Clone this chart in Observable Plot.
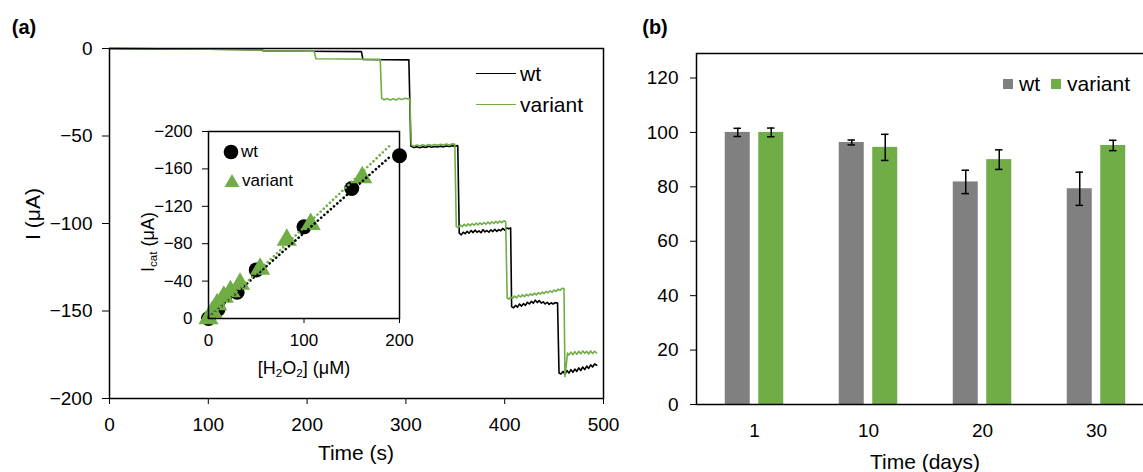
<!DOCTYPE html>
<html><head><meta charset="utf-8">
<script src="https://cdn.jsdelivr.net/npm/d3@7"></script>
<script src="https://cdn.jsdelivr.net/npm/@observablehq/plot@0.6"></script>
<style>
html,body{margin:0;padding:0;background:#fff;overflow:hidden;}
#root{position:relative;width:1143px;height:472px;overflow:hidden;font-family:"Liberation Sans",Arial,sans-serif;color:#000;}
#root > svg{position:absolute;overflow:visible;}
.t{position:absolute;white-space:nowrap;line-height:1;transform:translate(-50%,-50%);}
.rot{transform:translate(-50%,-50%) rotate(-90deg);}
.leg{position:absolute;white-space:nowrap;line-height:1;display:flex;align-items:center;}
sub{font-size:65%;vertical-align:-0.25em;line-height:0;}
</style></head><body><div id="root"></div>
<script>
// ---------- Panel (a): amperometric traces ----------
const timeTicks = [0, 100, 200, 300, 400, 500];
const currentTicks = [-200, -150, -100, -50, 0];

const wtTime = [0,50,100,154,156,200,255,256.5,280,303,305,308,311,314,317,320,323,326,329,332,335,338,341,344,347,350,352.5,
  354,356,358,360,362,364,366,368,370,372,374,376,378,380,382,384,386,388,390,392,394,396,398,400,402,404,406,
  407,409,411,413,415,417,419,421,423,425,427,429,431,433,435,437,439,441,443,445,447,449,451,453.5,
  455,457,459,461,463,465,467,469,471,473,475,477,479,481,483,485,487,489,491,493];
const wtCurrent = [0,-0.2,-0.4,-0.7,-1.4,-1.6,-1.8,-6.3,-6.4,-6.5,-55.8,-56.6,-56.2,-56.7,-56.1,-56.5,-55.9,-56.4,-56.0,-56.3,-55.8,-56.2,-55.7,-56.0,-55.6,-55.8,-55.5,
  -105.5,-106.5,-105,-105.8,-104.5,-105.5,-104,-105.2,-103.8,-105,-104.2,-105.3,-103.5,-104.8,-104,-105,-103.6,-104.6,-103.3,-104.5,-103.5,-104.2,-102.8,-103.8,-102.5,-103,-102.5,
  -147.5,-148.2,-146.8,-147.8,-146,-147.2,-145.8,-146.8,-145,-146,-144.5,-145.5,-143.8,-145.2,-144,-145.5,-144.8,-146,-145,-146.2,-145.3,-146,-145.2,-145.5,
  -185.5,-186,-184.5,-186.2,-184,-185.5,-183.5,-185,-183.2,-184.5,-182.5,-184,-182,-183.5,-181.5,-182.8,-180.8,-182,-180.2,-181];

const variantTime = [0,50,100,154,156,207,209,240,274,275.5,278,281,284,287,290,293,296,299,302,304,305.5,308,311,314,317,320,323,326,329,332,335,338,341,344,347,349.5,
  351,353,355,357,359,361,363,365,367,369,371,373,375,377,379,381,383,385,387,389,391,393,395,397,399,401,
  402.5,404,406,408,410,412,414,416,418,420,422,424,426,428,430,432,434,436,438,440,442,444,446,448,450,452,454,456,458,460,
  461,462.5,463.5,465,467,469,471,473,475,477,479,481,483,485,487,489,491,493];
const variantCurrent = [0,-0.2,-0.4,-0.7,-1.4,-1.6,-5.9,-6.0,-6.2,-28.5,-29.3,-28.6,-29.5,-28.7,-29.4,-28.5,-29.2,-28.4,-28.8,-28.6,-55.2,-55.8,-55.2,-55.7,-55.0,-55.6,-54.9,-55.5,-54.8,-55.3,-54.7,-55.2,-54.6,-55.1,-54.5,-54.8,
  -101.8,-102.4,-101,-101.8,-100.5,-101.5,-100.2,-101.2,-100,-101,-99.8,-100.8,-99.6,-100.6,-99.5,-100.4,-99.2,-100.2,-99,-100,-98.8,-99.8,-98.6,-99.5,-98.4,-99,
  -142.5,-143.2,-142,-142.8,-141.5,-142.5,-141,-142,-140.8,-141.8,-140.5,-141.4,-140.2,-141,-139.8,-140.8,-139.5,-140.4,-139.2,-140,-138.8,-139.6,-138.5,-139.2,-138,-138.8,-137.5,-138.2,-137,-137.2,
  -187.5,-180,-174,-175.2,-173.5,-175,-173.2,-174.8,-173,-174.5,-172.8,-174.2,-173,-174.6,-172.8,-174.3,-173,-174];

// ---------- Inset: calibration ----------
const insetXTicks = [0, 100, 200];
const insetYTicks = [-200, -160, -120, -80, -40, 0];
const wtConc = [0, 10, 30, 50, 100, 150, 200];
const wtIcat = [0, -10, -28, -52, -98, -139, -174];
const variantConc = [0, 4, 9, 16, 23, 33, 54, 82, 107, 161];
const variantIcat = [0, -7, -15, -23, -29, -37, -53, -84, -101, -151];
const wtFitConc = [0, 190];
const wtFitIcat = [-1, -173];
const variantFitConc = [0, 190];
const variantFitIcat = [0, -185];

// ---------- Panel (b): stability ----------
const days = ["1", "10", "20", "30"];
const wtActivity = [100.0, 96.3, 81.8, 79.3];
const wtError = [1.5, 0.9, 4.3, 6.1];
const variantActivity = [100.0, 94.5, 90.0, 95.2];
const variantError = [1.6, 4.8, 3.6, 1.9];
const activityTicks = [0, 20, 40, 60, 80, 100, 120];

const GREEN = "#70ad47", GREY = "#808080";
const FONT = "'Liberation Sans', Arial, sans-serif";
const root = document.getElementById("root");

function place(el, left, top) { el.style.left = left + "px"; el.style.top = top + "px"; root.appendChild(el); }
function text(html, x, y, size, extra = "") {
  const d = document.createElement("div");
  d.className = "t " + extra; d.innerHTML = html; d.style.fontSize = size + "px";
  place(d, x, y); return d;
}

// Panel (a) main plot
const wtRows = wtTime.map((t, i) => ({t, I: wtCurrent[i]}));
const varRows = variantTime.map((t, i) => ({t, I: variantCurrent[i]}));
const mainPlot = Plot.plot({
  width: 620, height: 472,
  marginLeft: 109, marginRight: 17, marginTop: 48, marginBottom: 74,
  style: {fontFamily: FONT, fontSize: "19px", background: "transparent", color: "#000"},
  x: {domain: [0, 500], ticks: timeTicks, tickSize: 6, tickPadding: 13, label: null},
  y: {domain: [-200, 0], ticks: currentTicks, tickSize: 7, tickPadding: 10, label: null},
  marks: [
    Plot.line(wtRows, {x: "t", y: "I", stroke: "#000", strokeWidth: 1.6}),
    Plot.line(varRows, {x: "t", y: "I", stroke: GREEN, strokeWidth: 1.6}),
    Plot.frame({stroke: "#000", strokeWidth: 1.5})
  ]
});
place(mainPlot, 0, 0);

// Inset (reversed current axis: 0 at bottom, -200 at top)
const wtPts = wtConc.map((c, i) => ({c, I: wtIcat[i]}));
const varPts = variantConc.map((c, i) => ({c, I: variantIcat[i]}));
const wtFit = wtFitConc.map((c, i) => ({c, I: wtFitIcat[i]}));
const varFit = variantFitConc.map((c, i) => ({c, I: variantFitIcat[i]}));
const inset = Plot.plot({
  width: 270, height: 280,
  marginLeft: 68, marginRight: 11, marginTop: 21, marginBottom: 72,
  style: {fontFamily: FONT, fontSize: "17px", background: "transparent", color: "#000"},
  x: {domain: [0, 200], ticks: insetXTicks, tickSize: 5, tickPadding: 10, label: null},
  y: {domain: [-200, 0], reverse: true, ticks: insetYTicks, tickSize: 6, tickPadding: 10, label: null},
  marks: [
    Plot.frame({fill: "#fff", stroke: "none"}),
    Plot.dot(wtPts, {x: "c", y: "I", r: 7.5, fill: "#000", stroke: "none"}),
    Plot.dot(varPts, {x: "c", y: "I", r: 7.5, symbol: "triangle", fill: GREEN, stroke: "none"}),
    Plot.line(wtFit, {x: "c", y: "I", stroke: "#000", strokeWidth: 2.6, strokeDasharray: "0.1 4.2", strokeLinecap: "round"}),
    Plot.line(varFit, {x: "c", y: "I", stroke: GREEN, strokeWidth: 2.6, strokeDasharray: "0.1 4.2", strokeLinecap: "round"}),
    Plot.frame({stroke: "#000", strokeWidth: 1.5})
  ]
});
place(inset, 140, 110);

// Panel (b)
const barRows = [];
days.forEach((d, i) => {
  barRows.push({day: d, s: "wt", v: wtActivity[i], lo: wtActivity[i] - wtError[i], hi: wtActivity[i] + wtError[i]});
  barRows.push({day: d, s: "variant", v: variantActivity[i], lo: variantActivity[i] - variantError[i], hi: variantActivity[i] + variantError[i]});
});
const wtBars = barRows.filter(r => r.s === "wt");
const varBars = barRows.filter(r => r.s === "variant");
const IN_NEAR = 27.75, IN_FAR = 61.25, CAP_NEAR = 36.5, CAP_FAR = 70, OFF = 16.75;
const barPlot = Plot.plot({
  width: 600, height: 472,
  marginLeft: 96, marginRight: 46, marginTop: 53, marginBottom: 68,
  style: {fontFamily: FONT, fontSize: "19px", background: "transparent", color: "#000"},
  x: {type: "band", domain: days, padding: 0, tickSize: 0, tickPadding: 19, label: null},
  y: {domain: [0, 129], ticks: activityTicks, tickSize: 6, tickPadding: 12, label: null},
  marks: [
    Plot.barY(wtBars, {x: "day", y: "v", fill: GREY, insetLeft: IN_NEAR, insetRight: IN_FAR}),
    Plot.barY(varBars, {x: "day", y: "v", fill: GREEN, insetLeft: IN_FAR, insetRight: IN_NEAR}),
    Plot.ruleX(wtBars, {x: "day", y1: "lo", y2: "hi", dx: -OFF, stroke: "#000", strokeWidth: 1.5}),
    Plot.ruleX(varBars, {x: "day", y1: "lo", y2: "hi", dx: OFF, stroke: "#000", strokeWidth: 1.5}),
    Plot.tickY(wtBars, {x: "day", y: "lo", insetLeft: CAP_NEAR, insetRight: CAP_FAR, stroke: "#000", strokeWidth: 1.5}),
    Plot.tickY(wtBars, {x: "day", y: "hi", insetLeft: CAP_NEAR, insetRight: CAP_FAR, stroke: "#000", strokeWidth: 1.5}),
    Plot.tickY(varBars, {x: "day", y: "lo", insetLeft: CAP_FAR, insetRight: CAP_NEAR, stroke: "#000", strokeWidth: 1.5}),
    Plot.tickY(varBars, {x: "day", y: "hi", insetLeft: CAP_FAR, insetRight: CAP_NEAR, stroke: "#000", strokeWidth: 1.5}),
    Plot.frame({stroke: "#000", strokeWidth: 1.5})
  ]
});
place(barPlot, 600, 0);

// Titles and axis labels
const a = text("(a)", 24, 27, 20); a.style.fontWeight = "bold";
const b = text("(b)", 655, 27, 20); b.style.fontWeight = "bold";
text("I (\u03bcA)", 32, 214, 21, "rot");
text("Time (s)", 356, 452, 21);
text("I<sub>cat</sub> (\u03bcA)", 148, 242, 18, "rot");
text("[H<sub>2</sub>O<sub>2</sub>] (\u03bcM)", 304, 368, 18);
text("Time (days)", 925, 461, 21);

// Legend (a)
function legLine(color, label, x, y) {
  const d = document.createElement("div"); d.className = "leg"; d.style.fontSize = "21px";
  d.innerHTML = `<span style="display:inline-block;width:40px;height:0;border-top:1.6px solid ${color};margin-right:4px"></span>${label}`;
  place(d, x, y);
}
legLine("#000", "wt", 476, 63);
legLine(GREEN, "variant", 476, 94);

// Inset legend
function legSym(svgShape, label, x, y) {
  const d = document.createElement("div"); d.className = "leg"; d.style.fontSize = "17px";
  d.innerHTML = `<svg width="16" height="16" style="margin-right:2px">${svgShape}</svg>${label}`;
  place(d, x, y);
}
legSym(`<circle cx="8" cy="8" r="7.3" fill="#000"/>`, "wt", 223, 143);
legSym(`<path d="M8,1 L15.5,14 L0.5,14 Z" fill="${GREEN}"/>`, "variant", 224, 172);

// Legend (b)
function legBox(color, label, x, y) {
  const d = document.createElement("div"); d.className = "leg"; d.style.fontSize = "21px";
  d.innerHTML = `<span style="display:inline-block;width:10px;height:10px;background:${color};margin-right:6px"></span>${label}`;
  place(d, x, y);
}
legBox(GREY, "wt", 1003, 73);
legBox(GREEN, "variant", 1051, 73);
</script></body></html>
